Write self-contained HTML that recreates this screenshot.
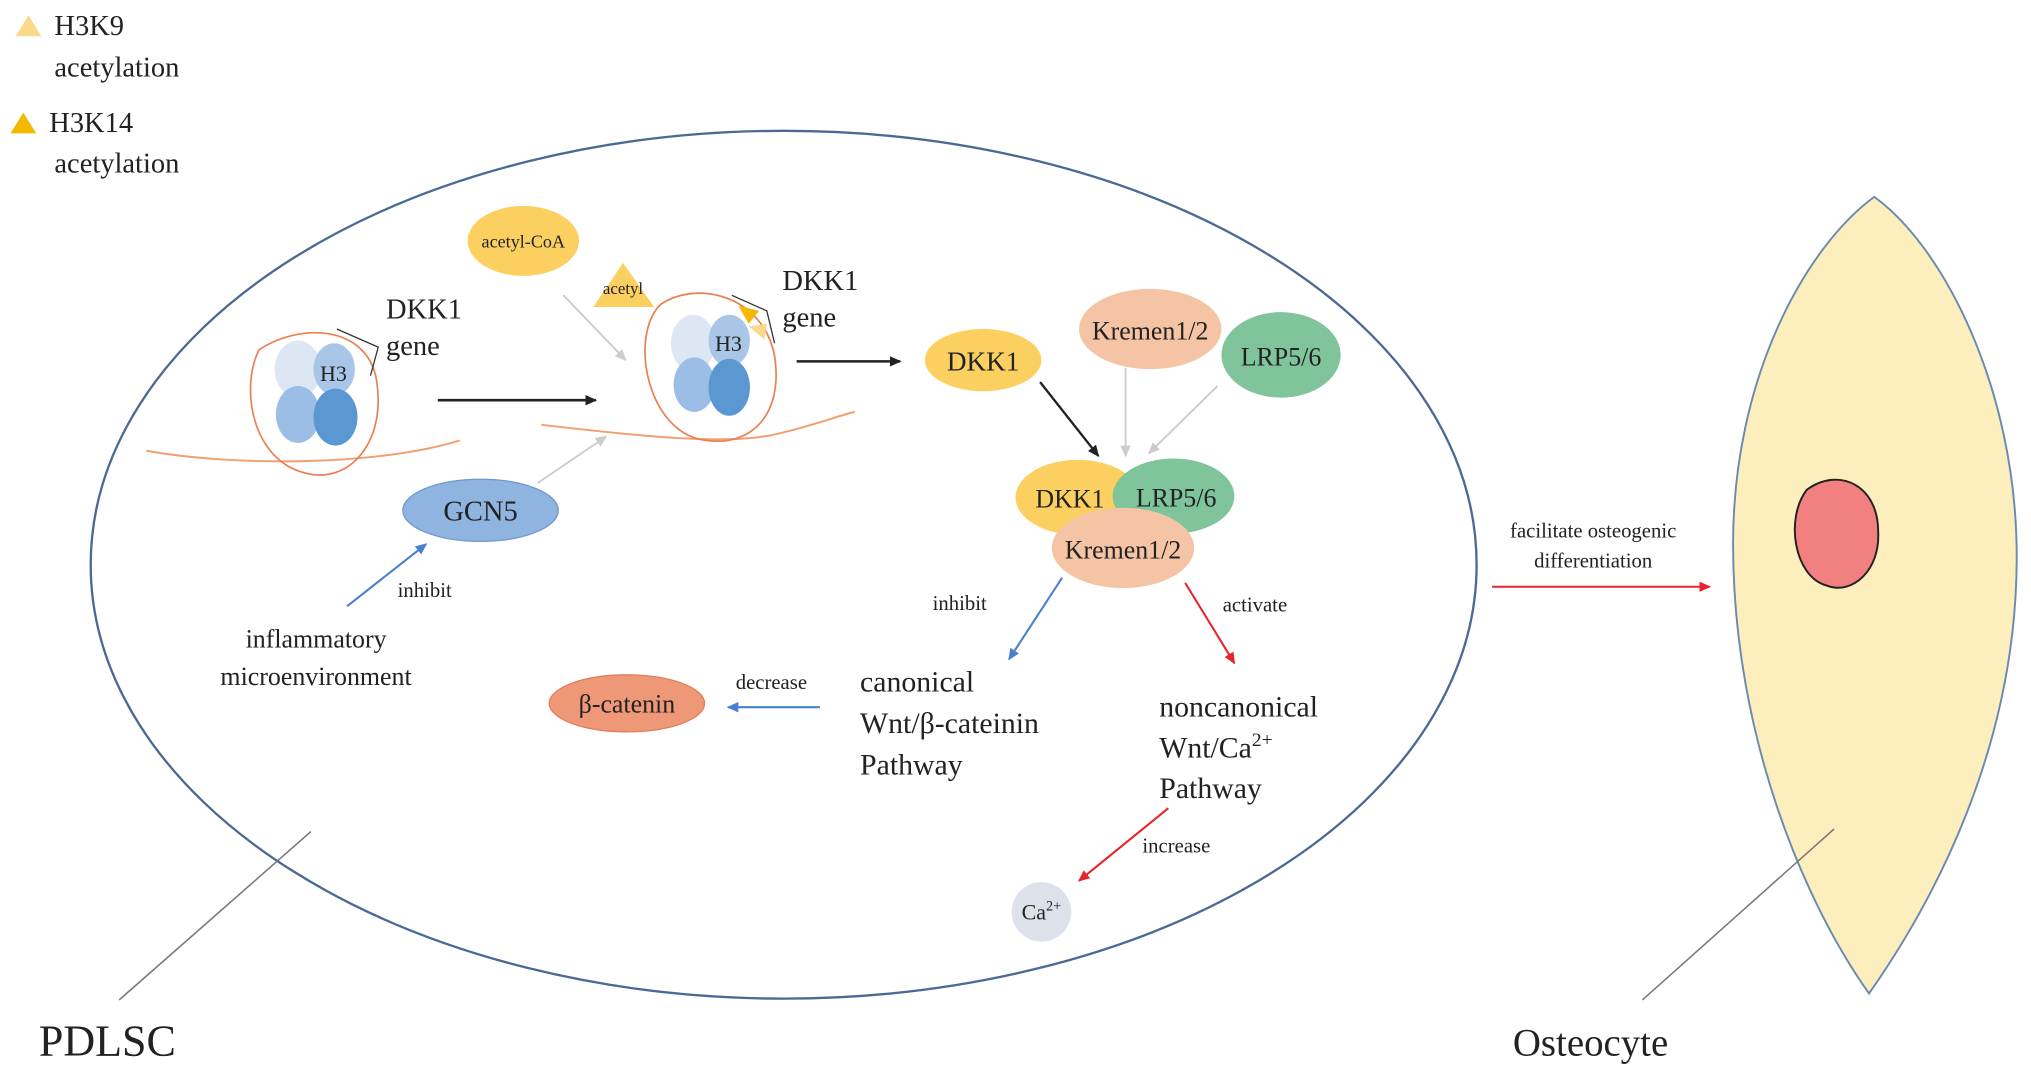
<!DOCTYPE html>
<html><head><meta charset="utf-8"><style>
html,body{margin:0;padding:0;background:#fff}
svg{display:block}
text{font-family:"Liberation Serif",serif;fill:#222}
</style></head><body>
<svg width="2031" height="1077" viewBox="0 0 1568 831.5" xmlns="http://www.w3.org/2000/svg">
<defs>
<marker id="ab" markerWidth="10" markerHeight="10" refX="8" refY="5" orient="auto" markerUnits="userSpaceOnUse"><path d="M0,1 L9,5 L0,9 Z" fill="#222"/></marker>
<marker id="ag" markerWidth="10" markerHeight="10" refX="8" refY="5" orient="auto" markerUnits="userSpaceOnUse"><path d="M0,1 L9,5 L0,9 Z" fill="#ccc"/></marker>
<marker id="abl" markerWidth="10" markerHeight="10" refX="8" refY="5" orient="auto" markerUnits="userSpaceOnUse"><path d="M0,1 L9,5 L0,9 Z" fill="#4a7fd0"/></marker>
<marker id="ar" markerWidth="10" markerHeight="10" refX="8" refY="5" orient="auto" markerUnits="userSpaceOnUse"><path d="M0,1 L9,5 L0,9 Z" fill="#e8232a"/></marker>
</defs>
<!-- legend -->
<polygon points="12,28 22,12 32,28" fill="#fbd98a"/>
<text x="42" y="27" font-size="22">H3K9</text>
<text x="42" y="59" font-size="22">acetylation</text>
<polygon points="8,103 18,87 28,103" fill="#f5b800"/>
<text x="38" y="102" font-size="22">H3K14</text>
<text x="42" y="133" font-size="22">acetylation</text>
<!-- cell -->
<ellipse cx="605" cy="436" rx="535" ry="335" fill="none" stroke="#4a6a94" stroke-width="1.8"/>
<line x1="92" y1="772" x2="240" y2="642" stroke="#777" stroke-width="1.2"/>
<text x="30" y="815" font-size="34">PDLSC</text>
<!-- osteocyte -->
<path d="M1447,152 C1500,190 1557,300 1557,430 C1557,580 1490,700 1443,767 C1395,700 1338,570 1338,420 C1338,290 1395,190 1447,152 Z" fill="#fdeebd" stroke="#6a8ab0" stroke-width="1.5"/>
<path d="M1395,378 C1420,360 1450,375 1450,410 C1452,440 1430,460 1410,452 C1385,445 1378,400 1395,378 Z" fill="#f28080" stroke="#222" stroke-width="1.5"/>
<line x1="1268" y1="772" x2="1416" y2="640" stroke="#777" stroke-width="1.2"/>
<text x="1168" y="815" font-size="30">Osteocyte</text>
<text x="1230" y="415" font-size="16" text-anchor="middle">facilitate osteogenic</text>
<text x="1230" y="438" font-size="16" text-anchor="middle">differentiation</text>
<line x1="1152" y1="453" x2="1320" y2="453" stroke="#e8232a" stroke-width="1.6" marker-end="url(#ar)"/>
<!-- nucleosome 1 -->
<path d="M113,348 C180,360 290,360 355,340" fill="none" stroke="#f0a070" stroke-width="1.5"/>
<path d="M200,270 C230,250 280,250 290,290 C300,340 270,375 235,365 C195,355 185,300 200,270 Z" fill="none" stroke="#e98050" stroke-width="1.3"/>
<ellipse cx="230" cy="285" rx="18" ry="22" fill="#dde6f3"/>
<ellipse cx="258" cy="285" rx="16" ry="20" fill="#a9c6e8"/>
<ellipse cx="230" cy="320" rx="17" ry="22" fill="#9cbde6"/>
<ellipse cx="259" cy="322" rx="17" ry="22" fill="#5b97d0"/>
<text x="247" y="294" font-size="17">H3</text>
<path d="M260,254 L292,268 L286,290" fill="none" stroke="#333" stroke-width="1"/>
<text x="298" y="246" font-size="22">DKK1</text>
<text x="298" y="274" font-size="22">gene</text>
<line x1="338" y1="309" x2="460" y2="309" stroke="#222" stroke-width="2" marker-end="url(#ab)"/>
<!-- acetyl-CoA -->
<ellipse cx="404" cy="186" rx="43" ry="27" fill="#fbd060"/>
<text x="404" y="191" font-size="14" text-anchor="middle">acetyl-CoA</text>
<polygon points="458,237 481,203 505,237" fill="#fbd060"/>
<text x="481" y="227" font-size="13" text-anchor="middle">acetyl</text>
<line x1="435" y1="228" x2="483" y2="278" stroke="#ccc" stroke-width="1.5" marker-end="url(#ag)"/>
<!-- nucleosome 2 -->
<path d="M418,328 C480,335 560,345 600,335 C630,328 650,320 660,318" fill="none" stroke="#f0a070" stroke-width="1.5"/>
<path d="M510,235 C540,215 590,230 598,275 C605,320 580,345 545,340 C500,335 485,260 510,235 Z" fill="none" stroke="#e98050" stroke-width="1.3"/>
<ellipse cx="535" cy="265" rx="17" ry="22" fill="#dde6f3"/>
<ellipse cx="563" cy="263" rx="16" ry="20" fill="#a9c6e8"/>
<ellipse cx="536" cy="297" rx="16" ry="21" fill="#9cbde6"/>
<ellipse cx="563" cy="299" rx="16" ry="22" fill="#5b97d0"/>
<text x="552" y="271" font-size="17">H3</text>
<path d="M565,228 L592,240 L598,265" fill="none" stroke="#333" stroke-width="1"/>
<polygon points="570,236 586,240 578,250" fill="#f5b800"/>
<polygon points="578,252 592,250 590,262" fill="#fbd98a"/>
<text x="604" y="224" font-size="22">DKK1</text>
<text x="604" y="252" font-size="22">gene</text>
<line x1="615" y1="279" x2="695" y2="279" stroke="#222" stroke-width="2" marker-end="url(#ab)"/>
<!-- GCN5 -->
<line x1="415" y1="373" x2="468" y2="337" stroke="#ccc" stroke-width="1.5" marker-end="url(#ag)"/>
<ellipse cx="371" cy="394" rx="60" ry="24" fill="#8fb4e0" stroke="#6f98cf" stroke-width="1"/>
<text x="371" y="402" font-size="22" text-anchor="middle">GCN5</text>
<line x1="268" y1="468" x2="329" y2="420" stroke="#4a7fd0" stroke-width="1.6" marker-end="url(#abl)"/>
<text x="307" y="461" font-size="16">inhibit</text>
<text x="244" y="500" font-size="20" text-anchor="middle">inflammatory</text>
<text x="244" y="529" font-size="20" text-anchor="middle">microenvironment</text>
<!-- DKK1 etc -->
<ellipse cx="759" cy="278" rx="45" ry="24" fill="#fbd060"/>
<text x="759" y="286" font-size="21" text-anchor="middle">DKK1</text>
<ellipse cx="888" cy="254" rx="55" ry="31" fill="#f5c4a4"/>
<text x="888" y="262" font-size="20" text-anchor="middle">Kremen1/2</text>
<ellipse cx="989" cy="274" rx="46" ry="33" fill="#80c49c"/>
<text x="989" y="282" font-size="20" text-anchor="middle">LRP5/6</text>
<line x1="803" y1="295" x2="848" y2="352" stroke="#222" stroke-width="1.8" marker-end="url(#ab)"/>
<line x1="869" y1="284" x2="869" y2="352" stroke="#ccc" stroke-width="1.5" marker-end="url(#ag)"/>
<line x1="940" y1="298" x2="887" y2="350" stroke="#ccc" stroke-width="1.5" marker-end="url(#ag)"/>
<!-- complex -->
<ellipse cx="832" cy="384" rx="48" ry="29" fill="#fbd060"/>
<ellipse cx="906" cy="383" rx="47" ry="29" fill="#80c49c"/>
<text x="826" y="392" font-size="20" text-anchor="middle">DKK1</text>
<text x="908" y="391" font-size="20" text-anchor="middle">LRP5/6</text>
<ellipse cx="867" cy="423" rx="55" ry="31" fill="#f5c4a4"/>
<text x="867" y="431" font-size="20" text-anchor="middle">Kremen1/2</text>
<!-- pathways -->
<line x1="820" y1="446" x2="779" y2="509" stroke="#4a7fd0" stroke-width="1.6" marker-end="url(#abl)"/>
<text x="720" y="471" font-size="16">inhibit</text>
<line x1="915" y1="450" x2="953" y2="512" stroke="#e8232a" stroke-width="1.6" marker-end="url(#ar)"/>
<text x="944" y="472" font-size="16">activate</text>
<text x="664" y="534" font-size="23">canonical</text>
<text x="664" y="566" font-size="23">Wnt/β-cateinin</text>
<text x="664" y="598" font-size="23">Pathway</text>
<line x1="633" y1="546" x2="562" y2="546" stroke="#4a7fd0" stroke-width="1.6" marker-end="url(#abl)"/>
<text x="568" y="532" font-size="16">decrease</text>
<ellipse cx="484" cy="543" rx="60" ry="22" fill="#ee9878" stroke="#e27e5a" stroke-width="1"/>
<text x="484" y="550" font-size="20" text-anchor="middle">β-catenin</text>
<text x="895" y="553" font-size="23">noncanonical</text>
<text x="895" y="585" font-size="23">Wnt/Ca<tspan font-size="15" dy="-9">2+</tspan></text>
<text x="895" y="616" font-size="23">Pathway</text>
<line x1="902" y1="624" x2="833" y2="680" stroke="#e8232a" stroke-width="1.6" marker-end="url(#ar)"/>
<text x="882" y="658" font-size="16">increase</text>
<circle cx="804" cy="704" r="23" fill="#dde1ea"/>
<text x="804" y="710" font-size="17" text-anchor="middle">Ca<tspan font-size="11" dy="-7">2+</tspan></text>
</svg>
</body></html>
